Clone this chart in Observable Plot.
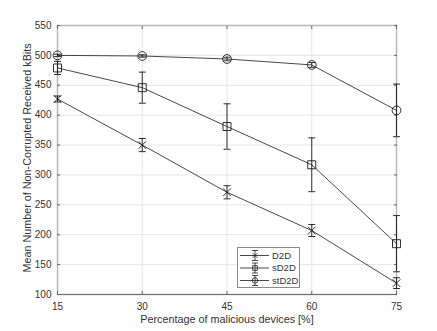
<!DOCTYPE html>
<html>
<head>
<meta charset="utf-8">
<script src="https://cdn.jsdelivr.net/npm/d3@7"></script>
<script src="https://cdn.jsdelivr.net/npm/@observablehq/plot@0.6"></script>
<style>
  html, body { margin: 0; padding: 0; background: #fff; }
  #wrap { position: relative; width: 437px; height: 331px; }
  #legend { position: absolute; left: 237px; top: 247px; }
</style>
</head>
<body>
<div id="wrap"></div>
<script>
// ---- data ----
const xValues = [15, 30, 45, 60, 75];
const xTicks = [15, 30, 45, 60, 75];
const yTicks = [100, 150, 200, 250, 300, 350, 400, 450, 500, 550];
const seriesNames = ["D2D", "sD2D", "stD2D"];
const d2dMean = [427, 350, 271, 207, 119];
const d2dErr = [5, 11, 11, 10, 9];
const sd2dMean = [479, 446, 381, 317, 185];
const sd2dErr = [11, 26, 38, 45, 47];
const std2dMean = [500, 499, 494, 484, 408];
const std2dErr = [2, 2, 3, 4, 44];
const xLabel = "Percentage of malicious devices [%]";
const yLabel = "Mean Number of Non-Corrupted Received kBits";

// ---- build table ----
const means = [d2dMean, sd2dMean, std2dMean];
const errs = [d2dErr, sd2dErr, std2dErr];
const rows = [];
seriesNames.forEach((s, k) => {
  xValues.forEach((x, i) => {
    rows.push({series: s, x, y: means[k][i], lo: means[k][i] - errs[k][i], hi: means[k][i] + errs[k][i]});
  });
});
const bySeries = s => rows.filter(r => r.series === s);

const ink = "#1a1a1a";
const cap = {draw(ctx) { ctx.moveTo(-3.5, 0); ctx.lineTo(3.5, 0); }};
const markerSym = {D2D: "times", sD2D: "square", stD2D: "circle"};
const markerR = {D2D: 3.6, sD2D: 4.5, stD2D: 4.4};

const marks = [
  Plot.gridX(xTicks, {stroke: "#e6e6e6", strokeOpacity: 1}),
  Plot.gridY(yTicks, {stroke: "#e6e6e6", strokeOpacity: 1}),
  Plot.frame({stroke: "#b8b8b8", strokeWidth: 1.5}),
  Plot.ruleY([100], {stroke: "#707070", strokeWidth: 1.2}),
  Plot.axisX(xTicks, {anchor: "bottom", tickSize: 0, tickPadding: 8, label: null, fill: "#333"}),
  Plot.axisY(yTicks, {anchor: "left", tickSize: 0, tickPadding: 6, label: null, fill: "#333"}),
  Plot.axisX(xTicks, {anchor: "bottom", tickSize: -3, tickFormat: () => "", label: null, stroke: "#666"}),
  Plot.axisX(xTicks, {anchor: "top", tickSize: -3, tickFormat: () => "", label: null, stroke: "#666"}),
  Plot.axisY(yTicks, {anchor: "left", tickSize: -3, tickFormat: () => "", label: null, stroke: "#666"}),
  Plot.axisY(yTicks, {anchor: "right", tickSize: -3, tickFormat: () => "", label: null, stroke: "#666"}),
  Plot.text([xLabel], {frameAnchor: "bottom", dy: 25, lineAnchor: "middle", textAnchor: "middle", text: d => d, fontSize: 10.8, fill: "#333"}),
  Plot.text([yLabel], {frameAnchor: "left", dx: -30, dy: -2, rotate: -90, lineAnchor: "middle", textAnchor: "middle", text: d => d, fontSize: 10.8, fill: "#333"})
];
seriesNames.forEach(s => {
  const d = bySeries(s);
  marks.push(
    Plot.line(d, {x: "x", y: "y", stroke: ink, strokeWidth: 0.8}),
    Plot.ruleX(d, {x: "x", y1: "lo", y2: "hi", stroke: ink, strokeWidth: 0.9}),
    Plot.dot(d, {x: "x", y: "lo", symbol: cap, stroke: ink, fill: "none", strokeWidth: 0.9}),
    Plot.dot(d, {x: "x", y: "hi", symbol: cap, stroke: ink, fill: "none", strokeWidth: 0.9}),
    Plot.dot(d, {x: "x", y: "y", symbol: markerSym[s], r: markerR[s], stroke: ink, fill: "none", strokeWidth: 0.9})
  );
});

const chart = Plot.plot({
  width: 437,
  height: 331,
  marginLeft: 57,
  marginRight: 41,
  marginTop: 25,
  marginBottom: 37,
  style: {fontFamily: "'Liberation Sans', Arial, sans-serif", fontSize: "10px", background: "#fff", color: "#333"},
  x: {domain: [15, 75], ticks: xTicks},
  y: {domain: [100, 550], ticks: yTicks},
  marks
});
const wrap = document.getElementById("wrap");
wrap.appendChild(chart);

// ---- legend ----
const lw = 63, lh = 41;
const leg = d3.select(wrap).append("svg").attr("id", "legend")
  .attr("width", lw).attr("height", lh)
  .style("font-family", "'Liberation Sans', Arial, sans-serif").style("font-size", "9.5px");
leg.append("rect").attr("x", 0.5).attr("y", 0.5).attr("width", lw - 1).attr("height", lh - 1)
  .attr("fill", "#fff").attr("stroke", "#8a8a8a");
const legSyms = {D2D: d3.symbolTimes, sD2D: d3.symbolSquare, stD2D: d3.symbolCircle};
const legSize = {D2D: 16, sD2D: 22, stD2D: 24};
seriesNames.forEach((s, i) => {
  const cy = 8.5 + i * 12.5;
  const g = leg.append("g").attr("stroke", ink).attr("fill", "none").attr("stroke-width", 0.8);
  g.append("line").attr("x1", 3).attr("x2", 32).attr("y1", cy).attr("y2", cy);
  g.append("line").attr("x1", 18).attr("x2", 18).attr("y1", cy - 5).attr("y2", cy + 5);
  g.append("line").attr("x1", 15).attr("x2", 21).attr("y1", cy - 5).attr("y2", cy - 5);
  g.append("line").attr("x1", 15).attr("x2", 21).attr("y1", cy + 5).attr("y2", cy + 5);
  g.append("path").attr("transform", `translate(18,${cy})`).attr("d", d3.symbol(legSyms[s], legSize[s])());
  leg.append("text").attr("x", 35).attr("y", cy).attr("dy", "0.35em").attr("fill", "#333").text(s);
});
</script>
</body>
</html>
